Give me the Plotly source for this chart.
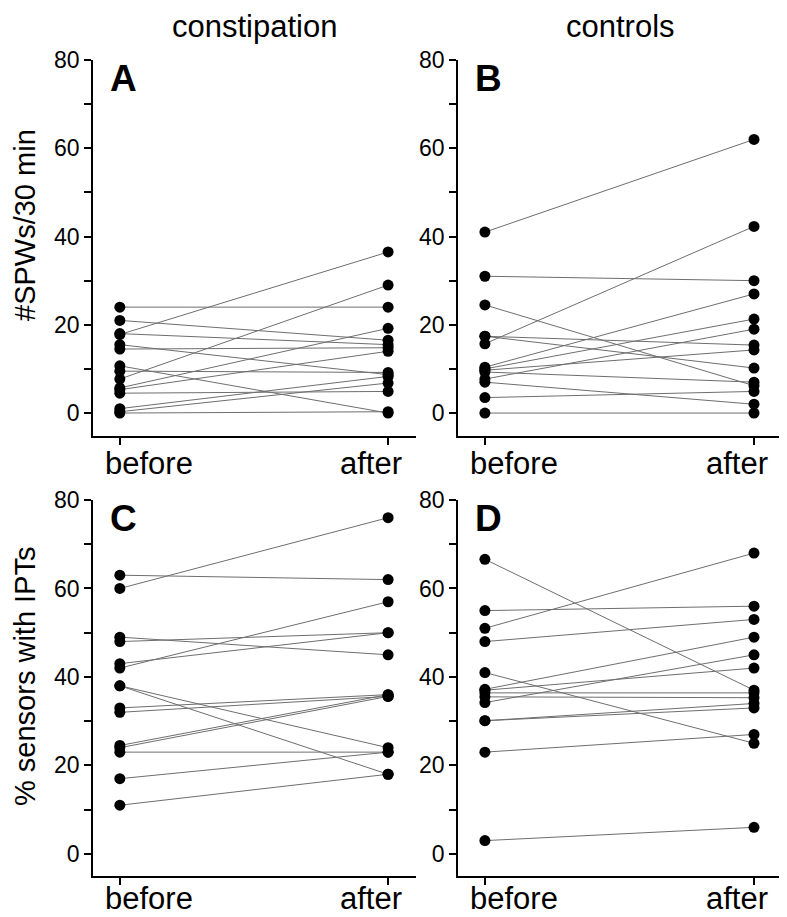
import plotly.graph_objects as go

# x categories
groups = ["before", "after"]

# Panel A: constipation, #SPWs/30 min
a_before = [24, 21, 17.8, 18, 15.5, 14.5, 10.7, 9.5, 7.7, 5.7, 5.3, 4.5, 1.0, 0.3, 0]
a_after = [24, 16.5, 36.5, 15.5, 8.7, 14.8, 0, 9.2, 29, 19.2, 14, 4.9, 8.3, 6.8, 0.3]

# Panel B: controls, #SPWs/30 min
b_before = [41, 31, 24.5, 17.4, 17.4, 15.7, 10.4, 10, 9.7, 9.3, 7.7, 7.0, 3.5, 0]
b_after = [62, 30, 6.2, 15.4, 10.2, 42.3, 27, 21.3, 14.3, 7.0, 19, 2.0, 4.9, 0]

# Panel C: constipation, % sensors with IPTs
c_before = [60, 63, 42, 49, 48, 43, 38, 38, 33, 32, 24.5, 24, 23, 17, 11]
c_after = [76, 62, 57, 45, 50, 50, 24, 18, 36, 35.6, 36, 35.6, 23, 23, 18]

# Panel D: controls, % sensors with IPTs
d_before = [66.6, 55, 51, 48, 41, 37.2, 37, 34.2, 36.4, 35.5, 30.1, 30.1, 23, 3]
d_after = [37, 56, 68, 53, 25, 49, 42, 45, 36.4, 35.3, 34, 33, 27, 6]

panels = [
    ("A", a_before, a_after, "x", "y"),
    ("B", b_before, b_after, "x2", "y2"),
    ("C", c_before, c_after, "x3", "y3"),
    ("D", d_before, d_after, "x4", "y4"),
]

fig = go.Figure()

for letter, before, after, xa, ya in panels:
    # connecting lines, one per subject
    for b, a in zip(before, after):
        fig.add_trace(go.Scatter(
            x=[0, 1], y=[b, a], mode="lines",
            line=dict(color="#6e6e6e", width=1),
            xaxis=xa, yaxis=ya, hoverinfo="skip",
        ))
    fig.add_trace(go.Scatter(
        x=[0] * len(before) + [1] * len(after),
        y=before + after,
        mode="markers",
        marker=dict(size=11, color="black"),
        xaxis=xa, yaxis=ya,
    ))

font = "Arial, Liberation Sans, sans-serif"

xcommon = dict(
    range=[-0.1, 1.104], tickvals=[0, 1], showticklabels=False,
    showline=True, linecolor="black", linewidth=1.5,
    ticks="outside", ticklen=7, tickwidth=1.5, tickcolor="black",
    showgrid=False, zeroline=False, fixedrange=True, automargin=False,
)
ycommon = dict(
    tickvals=list(range(0, 81, 10)),
    ticktext=["0", "", "20", "", "40", "", "60", "", "80"],
    showline=True, linecolor="black", linewidth=1.5,
    ticks="outside", ticklen=7, tickwidth=1.5, tickcolor="black",
    showgrid=False, zeroline=False, fixedrange=True, automargin=False,
    tickfont=dict(family=font, size=23, color="black"),
)

# the page body adds an 8 px margin at top/left, so the figure is drawn
# 8 px smaller and every reference pixel position is shifted by 8
OFF = 8
W, H = 787 - OFF, 917 - OFF


def px(x):
    return (x - OFF) / W


def py(y):
    return (H - (y - OFF)) / H


left_dom = [px(93), px(416)]
right_dom = [px(458), px(782)]
top_dom = [py(436), py(60)]
bot_dom = [py(876), py(500)]

fig.update_layout(
    width=W, height=H,
    margin=dict(l=0, r=0, t=0, b=0),
    paper_bgcolor="white", plot_bgcolor="white",
    showlegend=False,
    xaxis=dict(xcommon, domain=left_dom, anchor="y"),
    xaxis2=dict(xcommon, domain=right_dom, anchor="y2"),
    xaxis3=dict(xcommon, domain=left_dom, anchor="y3"),
    xaxis4=dict(xcommon, domain=right_dom, anchor="y4"),
    yaxis=dict(ycommon, domain=top_dom, range=[-5.2, 80], anchor="x"),
    yaxis2=dict(ycommon, domain=top_dom, range=[-5.2, 80], anchor="x2"),
    yaxis3=dict(ycommon, domain=bot_dom, range=[-5, 80], anchor="x3"),
    yaxis4=dict(ycommon, domain=bot_dom, range=[-5, 80], anchor="x4"),
)

# x category labels, set inward of their ticks as in the original
for xa, row in [("x", 0), ("x2", 0), ("x3", 1), ("x4", 1)]:
    for i, lab in enumerate(groups):
        if row == 0:
            ypos, yanc = py(436 + 27), "middle"
        else:
            ypos, yanc = py(917), "bottom"
        fig.add_annotation(text=lab, x=i, xref=xa, y=ypos, yref="paper",
                           xanchor="center", yanchor=yanc, showarrow=False,
                           borderpad=0, xshift=29 if i == 0 else -17,
                           font=dict(family=font, size=31, color="black"))

# column titles
for txt, xc in [("constipation", 254.5), ("controls", 620)]:
    fig.add_annotation(text=txt, x=px(xc), y=1, xref="paper", yref="paper",
                       xanchor="center", yanchor="top", showarrow=False,
                       borderpad=0, font=dict(family=font, size=31, color="black"))

# y-axis titles
for txt, yc in [("#SPWs/30 min", 225), ("% sensors with IPTs", 677)]:
    fig.add_annotation(text=txt, x=0, y=py(yc), xref="paper", yref="paper",
                       xanchor="left", yanchor="middle", borderpad=0,
                       textangle=-90, showarrow=False,
                       font=dict(family=font, size=29, color="black"))

# panel letters
for letter, xl, yt in [("A", 108, 56), ("B", 473, 56), ("C", 108, 496), ("D", 473, 496)]:
    fig.add_annotation(text="<b>%s</b>" % letter, x=px(xl), y=py(yt),
                       xref="paper", yref="paper", xanchor="left", yanchor="top",
                       showarrow=False, font=dict(family=font, size=37, color="black"))

fig.write_html("out.html")
